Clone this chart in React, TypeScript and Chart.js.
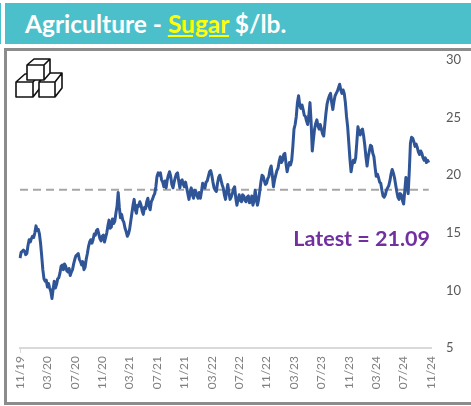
import React, { useEffect, useRef } from "react";
import { Chart, registerables } from "chart.js";

Chart.register(...registerables);

const monthLabels = ["11/19", "03/20", "07/20", "11/20", "03/21", "07/21", "11/21", "03/22", "07/22", "11/22", "03/23", "07/23", "11/23", "03/24", "07/24", "11/24"];
const samplesPerTick = 24;
const sugarPrices = [
  12.8, 13.3, 13.4, 13.5, 13.4, 13.1, 13.2, 13.9, 14.4, 14.2, 14.5, 14.7, 14.6, 15.0, 15.6, 15.2, 15.3, 14.9, 14.1, 13.0, 11.8, 11.0, 10.8, 10.9,
  10.3, 10.6, 10.2, 9.9, 9.3, 10.1, 10.8, 10.2, 10.5, 11.0, 11.1, 11.5, 12.1, 12.2, 11.8, 12.3, 12.1, 11.7, 11.6, 11.9, 11.3, 11.6, 11.8, 12.3,
  12.7, 13.0, 13.1, 13.2, 12.7, 12.5, 12.2, 12.5, 11.8, 12.0, 12.7, 13.2, 13.8, 14.2, 14.4, 14.1, 14.4, 14.9, 14.8, 15.2, 15.3, 14.9, 14.5, 14.3,
  14.7, 14.8, 14.2, 14.6, 15.0, 15.6, 16.1, 15.4, 15.5, 16.2, 15.8, 16.0, 16.7, 17.3, 18.5, 17.2, 16.3, 16.6, 16.1, 15.9, 15.4, 15.1, 14.7, 14.9,
  15.3, 16.0, 16.7, 17.4, 17.9, 17.0, 16.7, 17.4, 17.3, 17.7, 17.4, 16.9, 16.6, 17.2, 17.1, 17.7, 18.0, 17.3, 17.0, 17.7, 17.9, 18.2, 18.4, 19.0,
  19.9, 20.2, 20.0, 20.2, 19.6, 19.4, 19.0, 19.5, 18.9, 19.6, 20.0, 20.3, 19.9, 19.2, 18.9, 19.4, 19.8, 20.1, 20.2, 19.5, 18.9, 19.5, 19.6, 19.2,
  19.0, 19.4, 18.9, 18.4, 17.9, 18.5, 18.9, 18.3, 18.0, 18.7, 18.6, 18.2, 18.0, 18.5, 18.0, 18.6, 19.3, 19.0, 18.9, 19.4, 19.5, 19.9, 20.3, 20.4,
  20.0, 19.4, 18.9, 18.7, 18.6, 19.3, 19.8, 20.0, 19.6, 19.2, 18.9, 18.3, 17.9, 18.6, 19.2, 18.5, 17.9, 18.1, 18.4, 18.8, 19.0, 18.0, 17.4, 17.9,
  18.3, 17.8, 17.7, 18.3, 18.2, 17.8, 17.7, 18.1, 18.2, 17.6, 17.7, 18.2, 17.4, 17.8, 18.7, 17.9, 17.4, 17.9, 18.6, 19.4, 20.0, 19.9, 19.5, 19.2,
  19.3, 19.7, 19.9, 20.5, 20.8, 20.0, 19.0, 19.6, 20.0, 20.4, 20.6, 21.2, 21.6, 21.1, 21.3, 21.8, 21.9, 21.0, 20.3, 20.8, 21.1, 20.9, 21.3, 22.5,
  24.0, 24.4, 25.1, 26.3, 26.9, 26.1, 25.8, 26.1, 25.7, 25.2, 25.1, 24.7, 24.4, 25.2, 26.3, 24.6, 22.1, 23.1, 24.0, 24.5, 24.8, 24.3, 24.0, 24.4,
  24.0, 23.6, 23.4, 24.4, 25.4, 26.2, 26.6, 26.9, 27.1, 26.3, 25.7, 26.4, 26.9, 27.1, 27.3, 27.6, 27.9, 27.4, 27.1, 27.4, 27.1, 26.3, 25.1, 24.2,
  22.8, 21.4, 20.3, 20.9, 21.3, 21.1, 21.5, 22.8, 24.2, 23.7, 23.5, 23.9, 24.0, 23.4, 22.6, 21.6, 20.8, 21.6, 22.1, 22.6, 22.5, 21.9, 21.6, 20.7,
  19.9, 20.1, 19.8, 19.4, 19.3, 18.7, 18.2, 18.1, 18.3, 18.7, 18.9, 19.1, 19.5, 20.1, 20.5, 20.2, 19.8, 19.2, 18.6, 18.1, 17.9, 18.4, 18.3, 17.8,
  17.5, 18.6, 19.8, 19.2, 18.4, 20.4, 22.8, 23.3, 23.2, 22.9, 22.5, 22.7, 22.4, 22.0, 21.8, 22.1, 21.9, 21.5, 21.3, 21.5, 21.1, 21.3, 21.09,
];
const averagePrice = 18.74;
const yTicksMin = 5;
const yTicksMax = 30;
const yTickStep = 5;

const cat = ["Agriculture - ", "Sugar", " $/lb."];
const latestText = "Latest = 21.09";
const font = "Lato, 'Open Sans', sans-serif";

function axisLabels(): string[] {
  const out: string[] = [];
  monthLabels.forEach((m, i) => {
    out.push(m);
    if (i < monthLabels.length - 1) {
      for (let k = 1; k < samplesPerTick; k++) out.push("");
    }
  });
  return out;
}

export default function App() {
  const ref = useRef<HTMLCanvasElement>(null);
  useEffect(() => {
    document.body.style.margin = "0";
    const labels = axisLabels();
    const prices = labels.map((_, i) => (i < sugarPrices.length ? sugarPrices[i] : null));
    const chart = new Chart(ref.current!, {
      type: "line",
      data: {
        labels,
        datasets: [
          {
            data: prices.map((p) => (p === null ? null : averagePrice)),
            borderColor: "#a6a6a6",
            borderWidth: 2,
            borderDash: [8, 5],
            pointRadius: 0,
            order: 2,
          },
          {
            data: prices,
            borderColor: "#2f5597",
            borderWidth: 3,
            pointRadius: 0,
            tension: 0,
            borderJoinStyle: "round",
            order: 1,
          },
        ],
      },
      options: {
        responsive: false,
        animation: false,
        layout: { padding: { top: 60, right: 0, bottom: 0, left: 20 } },
        plugins: { legend: { display: false }, tooltip: { enabled: false }, title: { display: false } },
        scales: {
          x: {
            type: "category",
            offset: false,
            grid: {
              display: true,
              drawOnChartArea: false,
              drawTicks: true,
              tickLength: 5,
              color: "#d9d9d9",
              lineWidth: (ctx: any) => (ctx.index % samplesPerTick === 0 ? 1 : 0),
            },
            border: { color: "#d9d9d9", width: 2 },
            ticks: {
              autoSkip: false,
              minRotation: 90,
              maxRotation: 90,
              padding: 3,
              color: "#7f7f7f",
              font: { family: font, size: 12 },
              callback: (_v, i) => (i % samplesPerTick === 0 ? labels[i] : null),
            },
            afterFit: (s: any) => {
              s.height = 406 - 348;
            },
          },
          y: {
            position: "right",
            min: yTicksMin,
            max: yTicksMax,
            grid: { display: false },
            border: { display: false },
            ticks: {
              stepSize: yTickStep,
              padding: 7,
              color: "#595959",
              font: { family: font, size: 13 },
            },
            afterFit: (s: any) => {
              s.width = 471 - 431;
            },
          },
        },
      },
    });
    return () => chart.destroy();
  }, []);

  return (
    <div style={{ position: "absolute", left: 0, top: 0, width: 471, height: 406, overflow: "hidden", background: "#fff" }}>
      <div style={{ position: "absolute", left: 0, top: 3, width: 1, height: 41, background: "#4bc0cb" }} />
      <div
        style={{
          position: "absolute", left: 5, top: 3, width: 466, height: 41, background: "#4bc0cb",
          color: "#fff", fontFamily: font, fontWeight: 700, fontSize: 24.5, lineHeight: "41px", paddingLeft: 20, boxSizing: "border-box", whiteSpace: "pre",
        }}
      >
        {cat[0]}
        <span style={{ color: "#ffff00", textDecoration: "underline" }}>{cat[1]}</span>
        {cat[2]}
      </div>
      <div style={{ position: "absolute", left: 4, top: 48, width: 480, height: 357, border: "3px solid #8c8c8c", boxSizing: "border-box" }} />
      <canvas ref={ref} width={471} height={406} style={{ position: "absolute", left: 0, top: 0 }} />
      <svg width="80" height="110" style={{ position: "absolute", left: 0, top: 0 }} fill="#fff" stroke="#111" strokeWidth="1.6" strokeLinejoin="round">
        <path d="M16 82 H33 V97 H16 Z M16 82 L25 74 H40 V88 L33 97 M33 82 L40 74" />
        <path d="M39 82 H55 V97 H39 Z M39 82 L47 73 H62 V88 L55 97 M55 82 L62 73" />
        <path d="M27 65 H44 V80 H27 Z M27 65 L34 59 H50 V73 L44 80 M44 65 L50 59" />
      </svg>
      <div style={{ position: "absolute", right: 41, top: 225, color: "#7030a0", fontFamily: font, fontWeight: 700, fontSize: 21.5, whiteSpace: "pre" }}>{latestText}</div>
    </div>
  );
}
